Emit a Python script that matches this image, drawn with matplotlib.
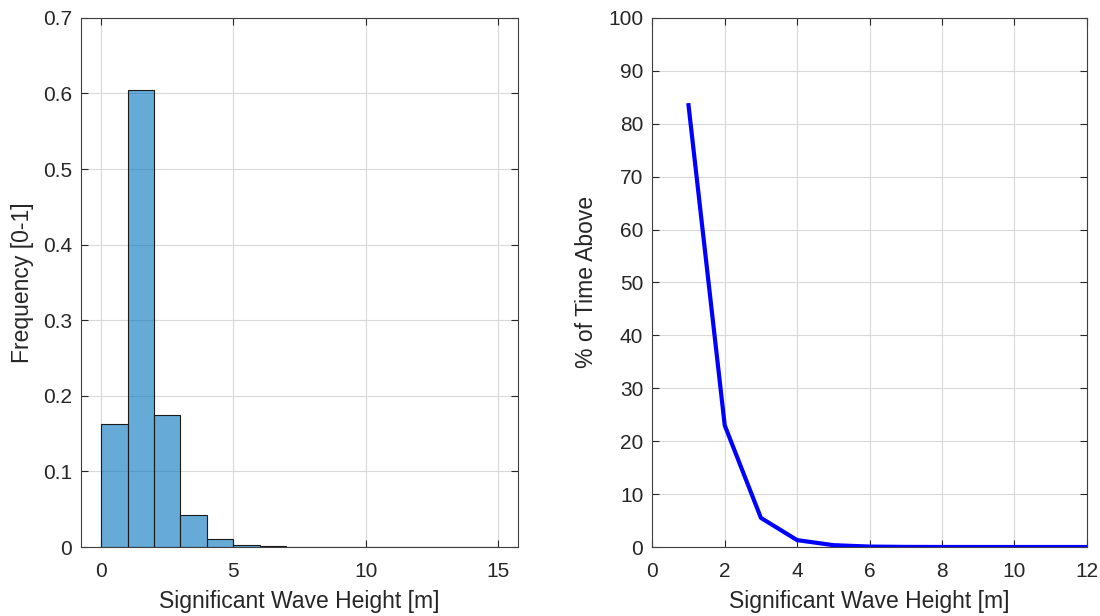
import matplotlib.pyplot as plt
import numpy as np

plt.rcParams['font.family'] = ['Liberation Sans', 'DejaVu Sans']

# histogram of significant wave height (bin edges 0..15, width 1)
bin_edges = np.arange(0, 16, 1)
freq = [0.163, 0.605, 0.175, 0.042, 0.011, 0.003, 0.001,
        0.0004, 0.0002, 0.0001, 0.0001, 0.0, 0.0, 0.0, 0.0]

# exceedance curve
hs_levels = [1, 2, 3, 4, 5, 6, 7, 8, 9, 10, 11, 12]
pct_above = [83.5, 23.0, 5.5, 1.3, 0.35, 0.08, 0.02, 0.005, 0.001, 0.0, 0.0, 0.0]

txt = '#262626'
fig = plt.figure(figsize=(11, 6.16), dpi=100)
ax1 = fig.add_axes([0.0736, 0.112, 0.397, 0.859])
ax2 = fig.add_axes([0.593, 0.112, 0.395, 0.859])

ax1.bar(bin_edges[:-1], freq, width=1, align='edge',
        color=(0, 0.447, 0.741, 0.6), edgecolor='#1a1a1a', linewidth=0.8, zorder=3)
ax1.set_xlim(-0.76, 15.75)
ax1.set_ylim(0, 0.7)
ax1.set_xticks([0, 5, 10, 15])
ax1.set_yticks(np.arange(0, 0.71, 0.1))
ax1.set_yticklabels(['0', '0.1', '0.2', '0.3', '0.4', '0.5', '0.6', '0.7'])
ax1.set_xlabel('Significant Wave Height [m]', fontsize=16.5, color=txt, labelpad=6)
ax1.set_ylabel('Frequency [0-1]', fontsize=16.5, color=txt, labelpad=6)

ax2.plot(hs_levels, pct_above, color='blue', linewidth=3, zorder=3)
ax2.set_xlim(0, 12)
ax2.set_ylim(0, 100)
ax2.set_xticks(np.arange(0, 13, 2))
ax2.set_yticks(np.arange(0, 101, 10))
ax2.set_xlabel('Significant Wave Height [m]', fontsize=16.5, color=txt, labelpad=6)
ax2.set_ylabel('% of Time Above', fontsize=16.5, color=txt, labelpad=7)

for ax in (ax1, ax2):
    ax.grid(True, color='#d9d9d9', linewidth=0.8, zorder=0)
    ax.set_axisbelow(True)
    ax.tick_params(direction='in', top=True, right=True, length=5,
                   labelsize=15, colors='#262626', width=0.8)
    ax.tick_params(axis='x', pad=11)
    ax.tick_params(axis='y', pad=6.5)
    for s in ax.spines.values():
        s.set_color('#404040')
        s.set_linewidth(0.8)

fig.savefig('out.png', dpi=100)
